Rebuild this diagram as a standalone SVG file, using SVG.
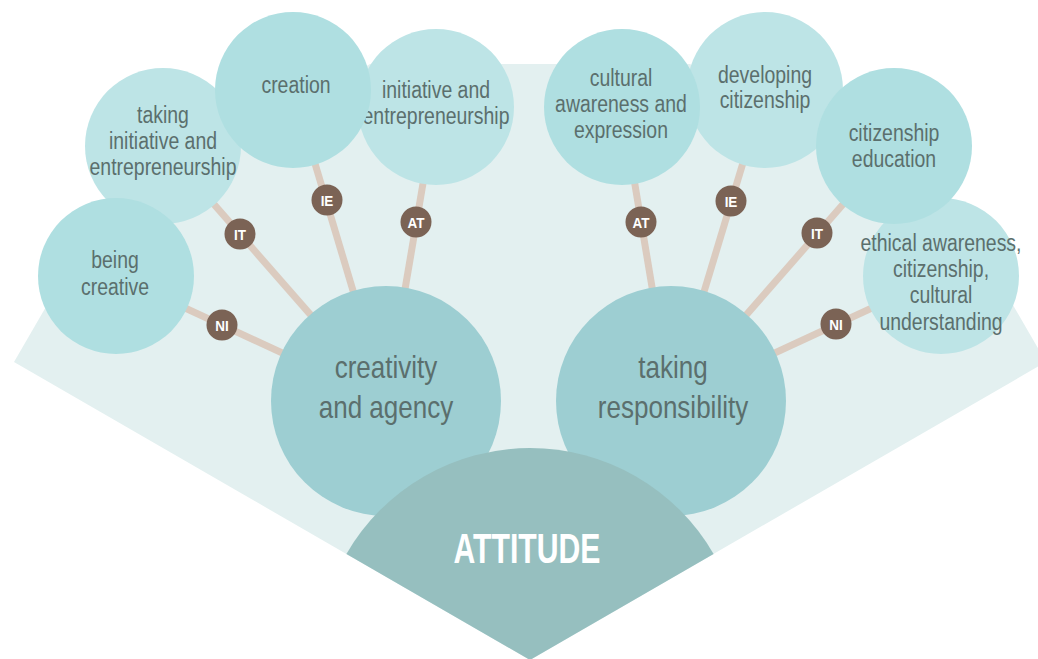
<svg xmlns="http://www.w3.org/2000/svg" width="1038" height="659" viewBox="0 0 1038 659">
<style>
.fan{fill:#e3f0f0}
.c1{fill:#bde4e6}
.c2{fill:#afdfe1}
.big{fill:#9dced2}
.att{fill:#96bfbf}
.t{font-family:"Liberation Sans",Arial,sans-serif;font-size:24px;fill:#5b6f6d;text-anchor:middle}
.tb{font-family:"Liberation Sans",Arial,sans-serif;font-size:31px;fill:#5b6f6d;text-anchor:middle}
.ta{font-family:"Liberation Sans",Arial,sans-serif;font-size:42px;font-weight:bold;fill:#ffffff;text-anchor:middle}
.ln{stroke:#dbcbbf;stroke-width:7;fill:none}
.bd{fill:#7b6355}
.bt{font-family:"Liberation Sans",Arial,sans-serif;font-size:15px;font-weight:bold;fill:#ffffff;text-anchor:middle}
</style>
<polygon class="fan" points="530,660 14,362 94,224 370,64 690,64 966,224 1046,362"/>
<g id="connectors">
<line class="ln" x1="386" y1="401" x2="116" y2="276"/>
<line class="ln" x1="386" y1="401" x2="163" y2="146"/>
<line class="ln" x1="386" y1="401" x2="293" y2="90"/>
<line class="ln" x1="386" y1="401" x2="436" y2="107"/>
<line class="ln" x1="671" y1="401" x2="622" y2="107"/>
<line class="ln" x1="671" y1="401" x2="765" y2="90"/>
<line class="ln" x1="671" y1="401" x2="894" y2="146"/>
<line class="ln" x1="671" y1="401" x2="941" y2="276"/>
<g id="badge-l-ni"><circle class="bd" cx="222" cy="325" r="15.5"/><text class="bt" transform="translate(222 330.5) scale(0.9 1)">NI</text></g>
<g id="badge-l-it"><circle class="bd" cx="240" cy="234" r="15.5"/><text class="bt" transform="translate(240 239.5) scale(0.9 1)">IT</text></g>
<g id="badge-l-ie"><circle class="bd" cx="327" cy="200" r="15.5"/><text class="bt" transform="translate(327 205.5) scale(0.9 1)">IE</text></g>
<g id="badge-l-at"><circle class="bd" cx="416" cy="222" r="15.5"/><text class="bt" transform="translate(416 227.5) scale(0.9 1)">AT</text></g>
<g id="badge-r-at"><circle class="bd" cx="641" cy="222" r="15.5"/><text class="bt" transform="translate(641 227.5) scale(0.9 1)">AT</text></g>
<g id="badge-r-ie"><circle class="bd" cx="731" cy="201" r="15.5"/><text class="bt" transform="translate(731 206.5) scale(0.9 1)">IE</text></g>
<g id="badge-r-it"><circle class="bd" cx="817" cy="233" r="15.5"/><text class="bt" transform="translate(817 238.5) scale(0.9 1)">IT</text></g>
<g id="badge-r-ni"><circle class="bd" cx="836" cy="324" r="15.5"/><text class="bt" transform="translate(836 329.5) scale(0.9 1)">NI</text></g>
</g>
<g id="taking-initiative">
<circle class="c1" cx="163" cy="146" r="78"/>
<text class="t" transform="translate(163 123) scale(0.81 1)">taking</text>
<text class="t" transform="translate(163 149) scale(0.81 1)">initiative and</text>
<text class="t" transform="translate(163 175) scale(0.81 1)">entrepreneurship</text>
</g>
<g id="initiative-entrepreneurship">
<circle class="c1" cx="436" cy="107" r="78"/>
<text class="t" transform="translate(436 98) scale(0.81 1)">initiative and</text>
<text class="t" transform="translate(436 124) scale(0.81 1)">entrepreneurship</text>
</g>
<g id="developing-citizenship">
<circle class="c1" cx="765" cy="90" r="78"/>
<text class="t" transform="translate(765 83) scale(0.81 1)">developing</text>
<text class="t" transform="translate(765 108) scale(0.81 1)">citizenship</text>
</g>
<g id="ethical-awareness">
<circle class="c1" cx="941" cy="276" r="78"/>
<text class="t" transform="translate(941 251) scale(0.81 1)">ethical awareness,</text>
<text class="t" transform="translate(941 277) scale(0.81 1)">citizenship,</text>
<text class="t" transform="translate(941 303) scale(0.81 1)">cultural</text>
<text class="t" transform="translate(941 330) scale(0.81 1)">understanding</text>
</g>
<g id="being-creative">
<circle class="c2" cx="116" cy="276" r="78"/>
<text class="t" transform="translate(115 268) scale(0.81 1)">being</text>
<text class="t" transform="translate(115 295) scale(0.81 1)">creative</text>
</g>
<g id="creation">
<circle class="c2" cx="293" cy="90" r="78"/>
<text class="t" transform="translate(296 93) scale(0.81 1)">creation</text>
</g>
<g id="cultural-awareness">
<circle class="c2" cx="622" cy="107" r="78"/>
<text class="t" transform="translate(621 86) scale(0.81 1)">cultural</text>
<text class="t" transform="translate(621 112) scale(0.81 1)">awareness and</text>
<text class="t" transform="translate(621 138) scale(0.81 1)">expression</text>
</g>
<g id="citizenship-education">
<circle class="c2" cx="894" cy="146" r="78"/>
<text class="t" transform="translate(894 141) scale(0.81 1)">citizenship</text>
<text class="t" transform="translate(894 167) scale(0.81 1)">education</text>
</g>
<g id="creativity-agency">
<circle class="big" cx="386" cy="401" r="115"/>
<text class="tb" transform="translate(386 378) scale(0.84 1)">creativity</text>
<text class="tb" transform="translate(386 418) scale(0.84 1)">and agency</text>
</g>
<g id="taking-responsibility">
<circle class="big" cx="671" cy="401" r="115"/>
<text class="tb" transform="translate(673 378) scale(0.84 1)">taking</text>
<text class="tb" transform="translate(673 418) scale(0.84 1)">responsibility</text>
</g>
<g id="attitude">
<path class="att" d="M530,660 L346.4,554 A212,212 0 0 1 713.6,554 Z"/>
<text class="ta" x="527" y="563" textLength="147" lengthAdjust="spacingAndGlyphs">ATTITUDE</text>
</g>
</svg>
